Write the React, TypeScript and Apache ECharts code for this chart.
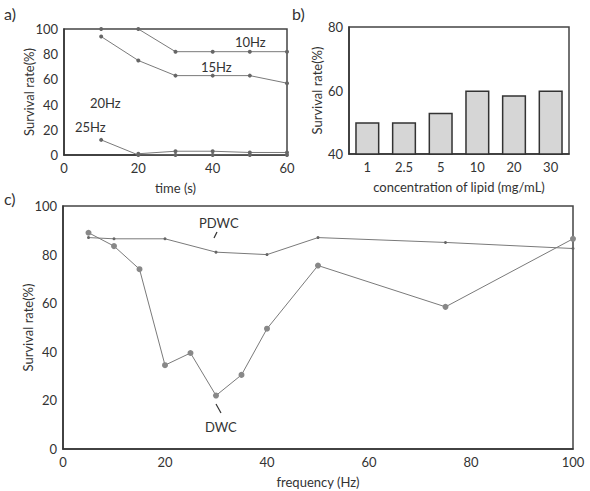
import React, { useEffect, useRef } from "react";
import * as echarts from "echarts";

const timeX = [10, 20, 30, 40, 50, 60];
const hz10 = [100, 100, 82, 82, 82, 82];
const hz15 = [94, 75, 63, 63, 63, 57];
const hz20 = [null, 1, 3, 3, 2, 2];
const hz25 = [12, 0, 0, 0, 0, 0];

const lipidCats = ["1", "2.5", "5", "10", "20", "30"];
const lipidVals = [50, 50, 53, 60, 58.5, 60];

const pdwcX = [5, 10, 20, 30, 40, 50, 75, 100];
const pdwcY = [87, 86.5, 86.5, 81, 80, 87, 85, 82.5];
const dwcX = [5, 10, 15, 20, 25, 30, 35, 40, 50, 75, 100];
const dwcY = [89, 83.5, 74, 34.5, 39.5, 22, 30.5, 49.5, 75.5, 58.5, 86.5];

const FONT = "Lato, 'Open Sans', sans-serif";
const TXT = "#333";
const LINE = "#7a7a7a";

const pair = (xs: number[], ys: (number | null)[]) => xs.map((x, i) => [x, ys[i]]);

export default function App() {
  const ref = useRef<HTMLDivElement>(null);
  useEffect(() => {
    const chart = echarts.init(ref.current!, null, { renderer: "svg" });
    const axisLabel = { color: TXT, fontSize: 13, fontFamily: FONT, margin: 6 };
    const nameStyle = { color: TXT, fontSize: 13, fontFamily: FONT };
    const axisLine = { show: true, lineStyle: { color: "#333", width: 1.5 } };
    const lineSeries = (xi: number, data: any[], sym = true) => ({
      type: "line",
      xAxisIndex: xi,
      yAxisIndex: xi,
      data,
      symbol: sym ? "circle" : "none",
      symbolSize: 4,
      lineStyle: { color: LINE, width: 1 },
      itemStyle: { color: "#666" },
      connectNulls: false,
    });
    chart.setOption({
      animation: false,
      backgroundColor: "#fff",
      grid: [
        { left: 64, top: 29, width: 223, height: 126, show: true, borderColor: "#444", borderWidth: 1.5, backgroundColor: "transparent" },
        { left: 349, top: 27, width: 220, height: 127, show: true, borderColor: "#444", borderWidth: 1.5, backgroundColor: "transparent" },
        { left: 63, top: 206, width: 510, height: 243, show: true, borderColor: "#444", borderWidth: 1.5, backgroundColor: "transparent" },
      ],
      xAxis: [
        {
          gridIndex: 0, type: "value", min: 0, max: 60, interval: 20,
          axisLine, axisTick: { show: false }, splitLine: { show: false },
          axisLabel, name: "time (s)", nameLocation: "middle", nameGap: 26, nameTextStyle: nameStyle,
        },
        {
          gridIndex: 1, type: "category", data: lipidCats,
          axisLine, axisTick: { show: false }, splitLine: { show: false },
          axisLabel, name: "concentration of lipid (mg/mL)", nameLocation: "middle", nameGap: 26, nameTextStyle: nameStyle,
        },
        {
          gridIndex: 2, type: "value", min: 0, max: 100, interval: 20,
          axisLine, axisTick: { show: false }, splitLine: { show: false },
          axisLabel, name: "frequency (Hz)", nameLocation: "middle", nameGap: 26, nameTextStyle: nameStyle,
        },
      ],
      yAxis: [
        {
          gridIndex: 0, type: "value", min: 0, max: 100, interval: 20,
          axisLine, axisTick: { show: false }, splitLine: { show: false },
          axisLabel, name: "Survival rate(%)", nameLocation: "middle", nameGap: 29, nameMoveOverlap: false, nameTextStyle: nameStyle,
        },
        {
          gridIndex: 1, type: "value", min: 40, max: 80, interval: 20,
          axisLine, axisTick: { show: false }, splitLine: { show: false },
          axisLabel, name: "Survival rate(%)", nameLocation: "middle", nameGap: 26, nameMoveOverlap: false, nameTextStyle: nameStyle,
        },
        {
          gridIndex: 2, type: "value", min: 0, max: 100, interval: 20,
          axisLine, axisTick: { show: false }, splitLine: { show: false },
          axisLabel, name: "Survival rate(%)", nameLocation: "middle", nameGap: 29, nameMoveOverlap: false, nameTextStyle: nameStyle,
        },
      ],
      series: [
        { ...lineSeries(0, pair(timeX, hz10)), name: "10Hz" },
        { ...lineSeries(0, pair(timeX, hz15)), name: "15Hz" },
        { ...lineSeries(0, pair(timeX, hz20)), name: "20Hz" },
        { ...lineSeries(0, pair(timeX, hz25)), name: "25Hz" },
        {
          type: "bar", xAxisIndex: 1, yAxisIndex: 1, data: lipidVals, barWidth: "66%",
          itemStyle: { color: "#d6d6d6", borderColor: "#333", borderWidth: 1.5 },
        },
        { ...lineSeries(2, pair(pdwcX, pdwcY)), name: "PDWC", symbolSize: 3 },
        { ...lineSeries(2, pair(dwcX, dwcY)), name: "DWC", symbolSize: 6, itemStyle: { color: "#888" } },
      ],
      graphic: [
        { type: "text", left: 4, top: 5, style: { text: "a)", fontSize: 16, fontFamily: FONT, fill: TXT } },
        { type: "text", left: 292, top: 5, style: { text: "b)", fontSize: 16, fontFamily: FONT, fill: TXT } },
        { type: "text", left: 4, top: 190, style: { text: "c)", fontSize: 16, fontFamily: FONT, fill: TXT } },
        { type: "text", x: 235, y: 35, style: { text: "10Hz", fontSize: 13, fontFamily: FONT, fill: TXT } },
        { type: "text", x: 201, y: 60, style: { text: "15Hz", fontSize: 13, fontFamily: FONT, fill: TXT } },
        { type: "text", x: 90, y: 96, style: { text: "20Hz", fontSize: 13, fontFamily: FONT, fill: TXT } },
        { type: "text", x: 75, y: 120, style: { text: "25Hz", fontSize: 13, fontFamily: FONT, fill: TXT } },
        { type: "text", x: 199, y: 216, style: { text: "PDWC", fontSize: 13, fontFamily: FONT, fill: TXT } },
        { type: "line", shape: { x1: 214, y1: 238, x2: 217, y2: 232 }, style: { stroke: "#333", lineWidth: 1.2 } },
        { type: "text", x: 205, y: 420, style: { text: "DWC", fontSize: 13, fontFamily: FONT, fill: TXT } },
        { type: "line", shape: { x1: 216, y1: 404, x2: 221, y2: 413 }, style: { stroke: "#333", lineWidth: 1.2 } },
      ],
    });
    return () => chart.dispose();
  }, []);
  return <div ref={ref} style={{ width: 590, height: 491, position: "absolute", left: 0, top: 0 }} />;
}
